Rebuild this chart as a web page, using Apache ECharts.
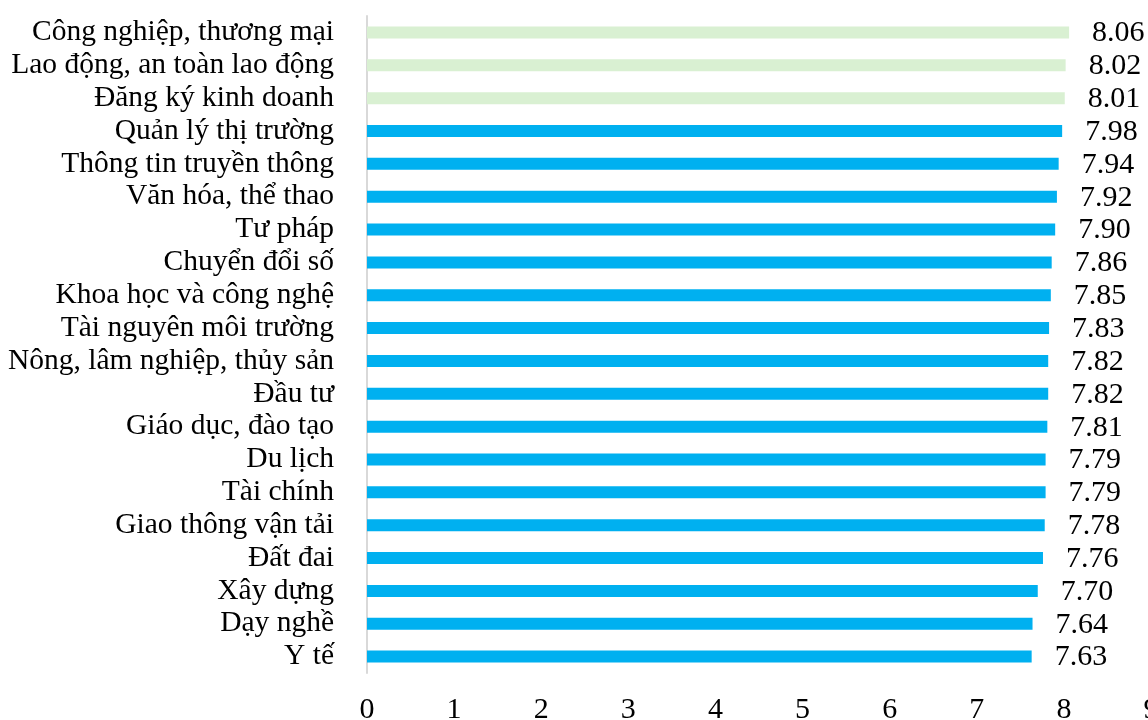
<!DOCTYPE html>
<html><head><meta charset="utf-8">
<script src="https://cdn.jsdelivr.net/npm/echarts@6/dist/echarts.min.js"></script>
<style>html,body{margin:0;padding:0;background:#fff}#c{width:1148px;height:720px}</style>
</head><body><div id="c"></div>
<script>
const categories = ["Công nghiệp, thương mại","Lao động, an toàn lao động","Đăng ký kinh doanh","Quản lý thị trường","Thông tin truyền thông","Văn hóa, thể thao","Tư pháp","Chuyển đổi số","Khoa học và công nghệ","Tài nguyên môi trường","Nông, lâm nghiệp, thủy sản","Đầu tư","Giáo dục, đào tạo","Du lịch","Tài chính","Giao thông vận tải","Đất đai","Xây dựng","Dạy nghề","Y tế"];
const values = [8.06,8.02,8.01,7.98,7.94,7.92,7.90,7.86,7.85,7.83,7.82,7.82,7.81,7.79,7.79,7.78,7.76,7.70,7.64,7.63];
const highlightCount = 3;
const FONT = '"Liberation Serif","Times New Roman",serif';
const chart = echarts.init(document.getElementById('c'));
chart.setOption({
  animation:false,
  grid:{left:367,right:-3,top:16,bottom:47,containLabel:false,outerBoundsMode:'none'},
  xAxis:{type:'value',min:0,max:9,interval:1,
    axisLine:{show:false},axisTick:{show:false},splitLine:{show:false},
    axisLabel:{color:'#000',fontFamily:FONT,fontSize:30,margin:22,hideOverlap:false,showMaxLabel:true}},
  yAxis:{type:'category',inverse:true,data:categories,
    axisLine:{show:true,lineStyle:{color:'#d9d9d9',width:2}},axisTick:{show:false},
    axisLabel:{color:'#000',fontFamily:FONT,fontSize:29.5,margin:33,interval:0}},
  series:[{type:'bar',barWidth:12,
    data:values.map((v,i)=>({value:v,itemStyle:{color:i<highlightCount?'#d9f0d2':'#00b0f0'}})),
    label:{show:true,position:'right',distance:23,offset:[0,1],color:'#000',fontFamily:FONT,fontSize:30,
      formatter:p=>p.value.toFixed(2)}}]
});
</script></body></html>
